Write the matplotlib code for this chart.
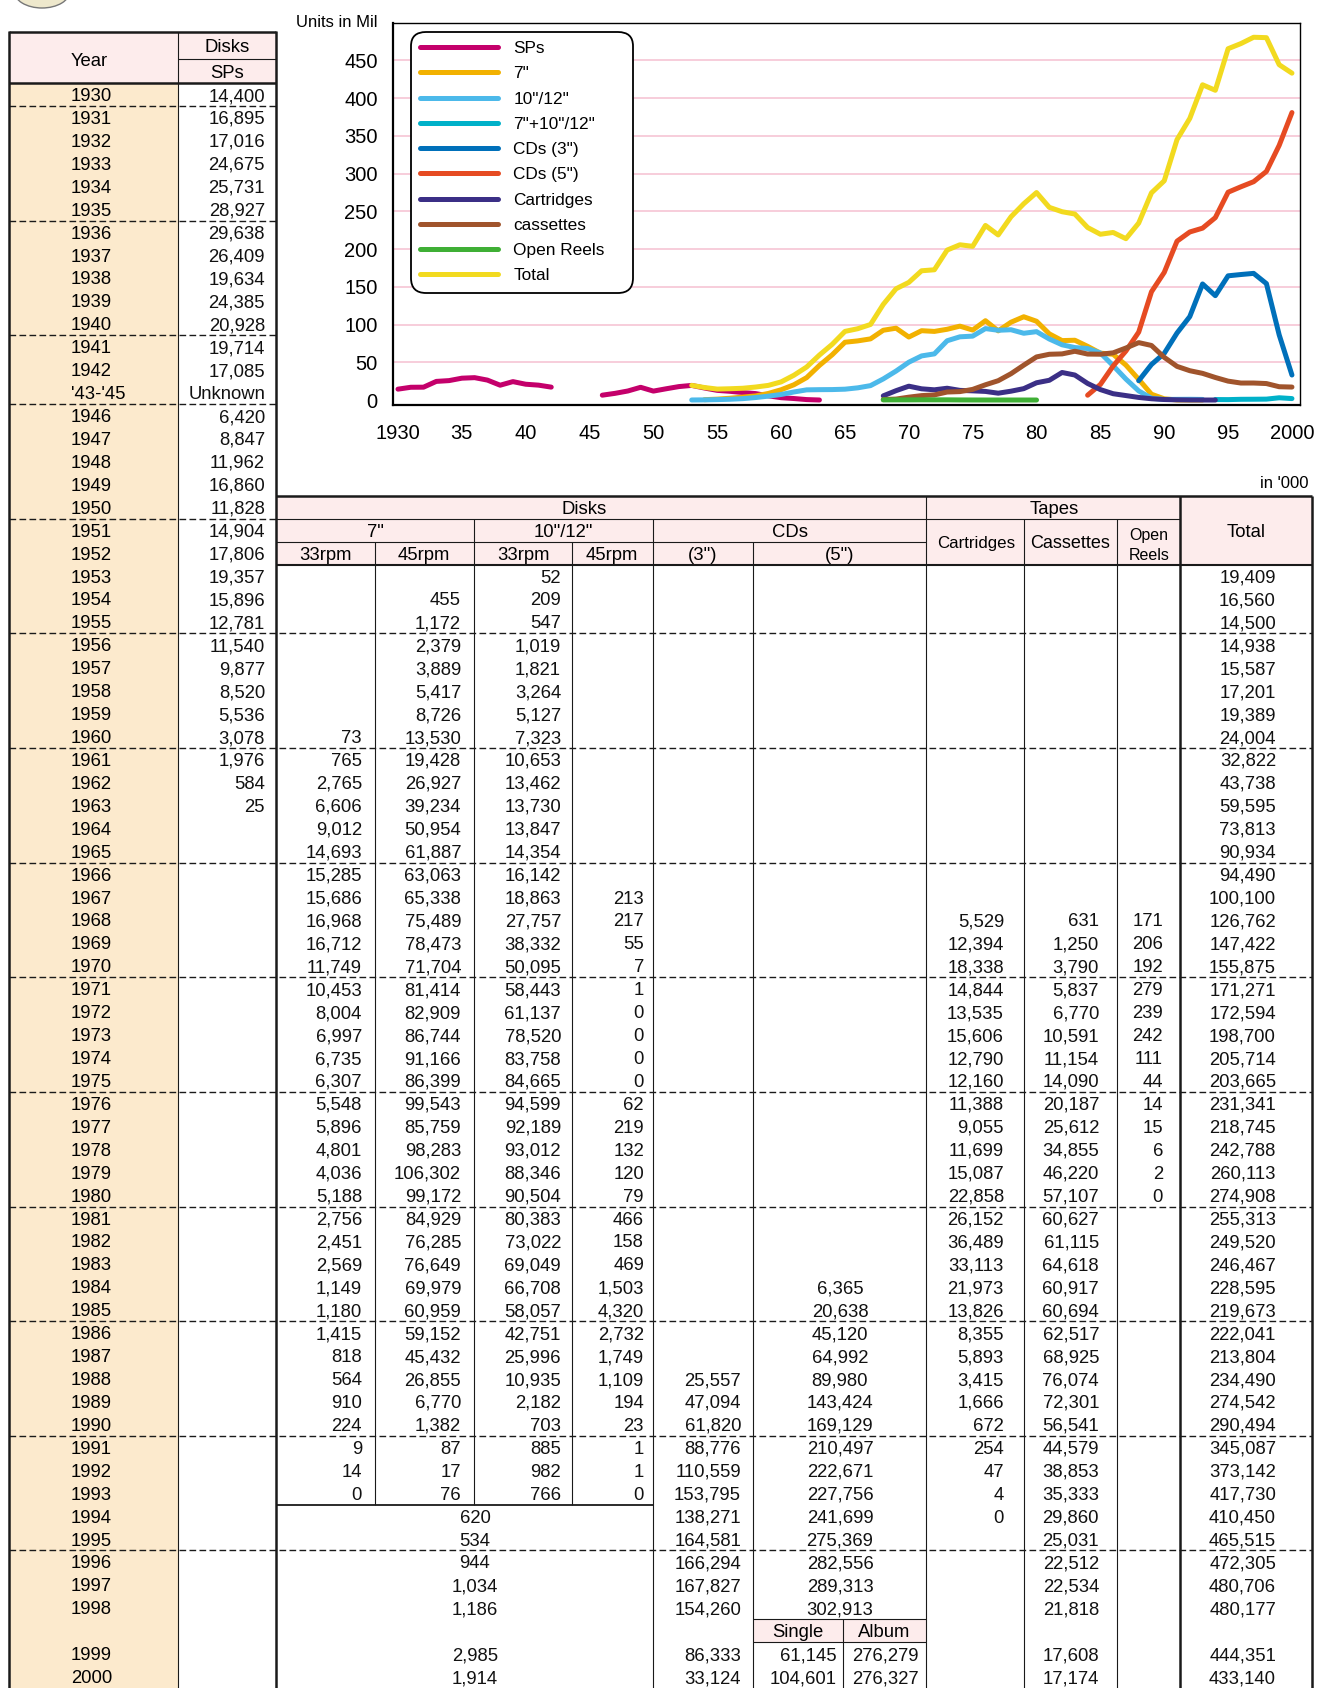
import matplotlib
matplotlib.use("Agg")
import matplotlib.pyplot as plt
import numpy as np
from matplotlib.patches import Rectangle, Ellipse

plt.rcParams['font.family'] = ['Liberation Sans', 'DejaVu Sans']

# ---- data, units in '000 ----
sp_years = list(range(1930, 1964))
sps = [14400, 16895, 17016, 24675, 25731, 28927, 29638, 26409, 19634, 24385,
       20928, 19714, 17085, None, None, None, 6420, 8847, 11962, 16860,
       11828, 14904, 17806, 19357, 15896, 12781, 11540, 9877, 8520, 5536,
       3078, 1976, 584, 25]

s7_33_years = list(range(1960, 1994))
s7_33 = [73, 765, 2765, 6606, 9012, 14693, 15285, 15686, 16968, 16712,
         11749, 10453, 8004, 6997, 6735, 6307, 5548, 5896, 4801, 4036,
         5188, 2756, 2451, 2569, 1149, 1180, 1415, 818, 564, 910,
         224, 9, 14, 0]

s7_45_years = list(range(1954, 1994))
s7_45 = [455, 1172, 2379, 3889, 5417, 8726,
         13530, 19428, 26927, 39234, 50954, 61887, 63063, 65338, 75489, 78473,
         71704, 81414, 82909, 86744, 91166, 86399, 99543, 85759, 98283, 106302,
         99172, 84929, 76285, 76649, 69979, 60959, 59152, 45432, 26855, 6770,
         1382, 87, 17, 76]

s10_33_years = list(range(1953, 1994))
s10_33 = [52, 209, 547, 1019, 1821, 3264, 5127,
          7323, 10653, 13462, 13730, 13847, 14354, 16142, 18863, 27757, 38332,
          50095, 58443, 61137, 78520, 83758, 84665, 94599, 92189, 93012, 88346,
          90504, 80383, 73022, 69049, 66708, 58057, 42751, 25996, 10935, 2182,
          703, 885, 982, 766]

s10_45_years = list(range(1967, 1994))
s10_45 = [213, 217, 55,
          7, 1, 0, 0, 0, 0, 62, 219, 132, 120,
          79, 466, 158, 469, 1503, 4320, 2732, 1749, 1109, 194,
          23, 1, 1, 0]

mixed_years = list(range(1994, 2001))
mixed = [620, 534, 944, 1034, 1186, 2985, 1914]

cd3_years = list(range(1988, 2001))
cd3 = [25557, 47094, 61820, 88776, 110559, 153795, 138271, 164581, 166294,
       167827, 154260, 86333, 33124]

cd5_years = list(range(1984, 1999))
cd5 = [6365, 20638, 45120, 64992, 89980, 143424, 169129, 210497, 222671,
       227756, 241699, 275369, 282556, 289313, 302913]
cd5_split_years = [1999, 2000]
cd5_single = [61145, 104601]
cd5_album = [276279, 276327]

cart_years = list(range(1968, 1995))
cart = [5529, 12394,
        18338, 14844, 13535, 15606, 12790, 12160, 11388, 9055, 11699, 15087,
        22858, 26152, 36489, 33113, 21973, 13826, 8355, 5893, 3415, 1666,
        672, 254, 47, 4, 0]

cass_years = list(range(1968, 2001))
cass = [631, 1250,
        3790, 5837, 6770, 10591, 11154, 14090, 20187, 25612, 34855, 46220,
        57107, 60627, 61115, 64618, 60917, 60694, 62517, 68925, 76074, 72301,
        56541, 44579, 38853, 35333, 29860, 25031, 22512, 22534, 21818, 17608, 17174]

reel_years = list(range(1968, 1981))
reels = [171, 206, 192, 279, 239, 242, 111, 44, 14, 15, 6, 2, 0]

total_years = list(range(1953, 2001))
total = [19409, 16560, 14500, 14938, 15587, 17201, 19389,
         24004, 32822, 43738, 59595, 73813, 90934, 94490, 100100, 126762, 147422,
         155875, 171271, 172594, 198700, 205714, 203665, 231341, 218745, 242788, 260113,
         274908, 255313, 249520, 246467, 228595, 219673, 222041, 213804, 234490, 274542,
         290494, 345087, 373142, 417730, 410450, 465515, 472305, 480706, 480177,
         444351, 433140]

row_labels = ([str(y) for y in range(1930, 1943)] + ["'43-'45"] +
              [str(y) for y in range(1946, 1999)] + [""] + ["1999", "2000"])

legend_labels = ['SPs', '7"', '10"/12"', '7"+10"/12"', 'CDs (3")', 'CDs (5")',
                 'Cartridges', 'cassettes', 'Open Reels', 'Total']
colors = ['#C4006B', '#F2B100', '#4CB9EA', '#00B1C9', '#0070BA', '#E64B22',
          '#3B2F86', '#A0542C', '#3FAF35', '#F2DA1F']

# ---- layout (pixels) ----
W, H = 1318, 1688
TOP0 = 83.0
RH = (H - TOP0) / 70
LINE = '#1a1a1a'
PINK = '#FDECEC'
BEIGE = '#FCEACD'
FS = 13.3


def row_of(y):
    if y <= 1942:
        return y - 1930
    if y <= 1998:
        return y - 1946 + 14
    return y - 1999 + 68


def rtop(i):
    return TOP0 + i * RH


def base(i):
    return rtop(i) + RH / 2 + 6.6


fig = plt.figure(figsize=(W / 100, H / 100), dpi=100)
tb = fig.add_axes([0, 0, 1, 1], zorder=0)
tb.set_xlim(0, W)
tb.set_ylim(H, 0)
tb.axis('off')


def hline(y, x0, x1, lw=0.8, **kw):
    tb.plot([x0, x1], [y, y], color=LINE, lw=lw, solid_capstyle='butt', **kw)


def vline(x, y0, y1, lw=0.8):
    tb.plot([x, x], [y0, y1], color=LINE, lw=lw, solid_capstyle='butt')


def put(x, i, s, ha='right', fs=FS):
    tb.text(x, base(i), s, ha=ha, va='baseline', fontsize=fs, color='#111')


# logo fragment at the top-left corner
tb.add_patch(Ellipse((42, -9), 56, 34, facecolor='#EEE8CC', edgecolor='#777', lw=1))

# ---- left table ----
L0, LM, L1 = 9, 178, 276
tb.add_patch(Rectangle((L0, 32), L1 - L0, TOP0 - 32, facecolor=PINK, lw=0))
tb.add_patch(Rectangle((L0, TOP0), LM - L0, H - TOP0, facecolor=BEIGE, lw=0))
vline(LM, 32, H)
hline(59, LM, L1)
hline(TOP0, L0, L1, lw=1.8)
vline(L0, 31, H, lw=1.8)
vline(L1, 31, H, lw=1.8)
hline(32, L0, L1, lw=1.8)
tb.text(71, 59 + 6.6, 'Year', ha='left', va='baseline', fontsize=FS)
tb.text(227, 45.5 + 6.6, 'Disks', ha='center', va='baseline', fontsize=FS)
tb.text(227, 71 + 6.6, 'SPs', ha='center', va='baseline', fontsize=FS)
for i, lab in enumerate(row_labels):
    tb.text(71, base(i), lab, ha='left', va='baseline', fontsize=FS)
for y, v in zip(sp_years, sps):
    if v is not None:
        put(265, row_of(y), f'{v:,}')
put(265, 13, 'Unknown')

# ---- right table ----
R0, RR = L1, 1312
xs = dict(a=375, b=474, c=572, d=653, e=752.6, f=926, g=1024, h=1117, t=1180)
h0, h1, h2, hb = rtop(18), rtop(19), rtop(20), rtop(21)
tb.add_patch(Rectangle((R0, h0), RR - R0, hb - h0, facecolor=PINK, lw=0))
hline(h0, R0, RR, lw=1.8)
hline(h1, R0, xs['t'])
hline(h2, R0, xs['f'])
hline(hb, R0, RR, lw=1.5)
for k in ('b', 'd'):
    vline(xs[k], h1, hb)
for k in ('a', 'c', 'e'):
    vline(xs[k], h2, hb)
for k in ('g', 'h'):
    vline(xs[k], h1, hb)
vline(xs['f'], h0, H)
vline(xs['t'], h0, H, lw=1.8)
vline(RR, h0, H, lw=1.8)

tb.text(584, base(18), 'Disks', ha='center', va='baseline', fontsize=FS)
tb.text(1054, base(18), 'Tapes', ha='center', va='baseline', fontsize=FS)
tb.text(1246, h0 + (hb - h0) / 2 + 6.6, 'Total', ha='center', va='baseline', fontsize=FS)
for x, s in [(375, '7"'), (563, '10"/12"'), (790, 'CDs')]:
    tb.text(x, base(19), s, ha='center', va='baseline', fontsize=FS)
for x, s in [(325, '33rpm'), (424, '45rpm'), (523, '33rpm'), (612, '45rpm'),
             (703, '(3")'), (840, '(5")')]:
    tb.text(x, base(20), s, ha='center', va='baseline', fontsize=FS)
tb.text(976, h2 + 6, 'Cartridges', ha='center', va='baseline', fontsize=12.2)
tb.text(1070.5, h2 + 6.4, 'Cassettes', ha='center', va='baseline', fontsize=13)
tb.text(1149, h2 - 1.5, 'Open', ha='center', va='baseline', fontsize=11.5)
tb.text(1149, h2 + 18, 'Reels', ha='center', va='baseline', fontsize=11.5)

# body grid
r94 = rtop(row_of(1994))
for k in ('a', 'b', 'c'):
    vline(xs[k], hb, r94)
for k in ('d', 'e', 'g', 'h'):
    vline(xs[k], hb, H)
hline(r94, R0, xs['d'], lw=1.3)
rs = rtop(67)
tb.add_patch(Rectangle((xs['e'], rs), xs['f'] - xs['e'], RH, facecolor=PINK, lw=0))
hline(rs, xs['e'], xs['f'])
hline(rs + RH, xs['e'], xs['f'])
vline(843, rs, H)
tb.text(798, base(67), 'Single', ha='center', va='baseline', fontsize=FS)
tb.text(884.5, base(67), 'Album', ha='center', va='baseline', fontsize=FS)

# dashed 5-year separators
for i in (0, 5, 10, 13, 18):
    hline(rtop(i + 1), L0, L1, lw=1.0, linestyle=(0, (4.8, 2.4)))
for yr in range(1955, 1996, 5):
    hline(rtop(row_of(yr) + 1), L0, RR, lw=1.0, linestyle=(0, (4.8, 2.4)))

# body values
for years, vals, xr in [(s7_33_years, s7_33, 362), (s7_45_years, s7_45, 461),
                        (s10_33_years, s10_33, 561), (s10_45_years, s10_45, 644),
                        (cd3_years, cd3, 741), (cart_years, cart, 1004),
                        (cass_years, cass, 1099), (reel_years, reels, 1163),
                        (total_years, total, 1276)]:
    for y, v in zip(years, vals):
        put(xr, row_of(y), f'{v:,}')
for y, v in zip(mixed_years, mixed):
    put(475, row_of(y), f'{v:,}', ha='center')
for y, v in zip(cd5_years, cd5):
    put(840, row_of(y), f'{v:,}', ha='center')
for y, s, a in zip(cd5_split_years, cd5_single, cd5_album):
    put(837, row_of(y), f'{s:,}')
    put(919, row_of(y), f'{a:,}')

tb.text(377, 27, 'Units in Mil', ha='right', va='baseline', fontsize=12)
tb.text(1309, 488, "in '000", ha='right', va='baseline', fontsize=12)

# ---- chart (millions) ----
cx0, cx1, cy0, cy1 = 393, 1300, 22.7, 405
ax = fig.add_axes([cx0 / W, 1 - cy1 / H, (cx1 - cx0) / W, (cy1 - cy0) / H], zorder=2)


def series(years, vals, start, end):
    yrs = np.arange(start, end + 1)
    out = np.zeros(len(yrs))
    for y, v in zip(years, vals):
        out[y - start] += v
    return yrs, out


y7, v7 = series(s7_33_years + s7_45_years, s7_33 + s7_45, 1954, 1993)
y10, v10 = series(s10_33_years + s10_45_years, s10_33 + s10_45, 1953, 1993)
y5, v5 = series(cd5_years + cd5_split_years * 2, cd5 + cd5_single + cd5_album, 1984, 2000)
sp_arr = np.array([np.nan if v is None else v for v in sps], dtype=float)

lines = [(sp_years, sp_arr), (y7, v7), (y10, v10), (mixed_years, mixed),
         (cd3_years, cd3), (y5, v5), (cart_years, cart), (cass_years, cass),
         (reel_years, reels), (total_years, total)]
for (xv, yv), lab, col in zip(lines, legend_labels, colors):
    ax.plot(xv, np.asarray(yv, dtype=float) / 1000, color=col, lw=3.6, label=lab,
            solid_capstyle='round', solid_joinstyle='round')

ax.set_xlim(1929.61, 2000.63)
ax.set_ylim(-6.6, 500)
ax.set_yticks(range(0, 451, 50))
ax.set_xticks(range(1930, 2001, 5))
ax.set_xticklabels(['1930'] + [str(y)[2:] for y in range(1935, 2000, 5)] + ['2000'])
ax.tick_params(length=0, labelsize=14.5, pad=11)
ax.tick_params(axis='x', pad=13.5)
ax.grid(axis='y', color='#F7CDDA', lw=1.4)
ax.get_ygridlines()[0].set_visible(False)
ax.set_axisbelow(True)
for s in ('left', 'bottom'):
    ax.spines[s].set_linewidth(1.6)
for s in ('top', 'right'):
    ax.spines[s].set_linewidth(1.0)

# legend frame spans x 411..633 px, top at 31.7 px
lx = (411 - cx0) / (cx1 - cx0)
ly = (cy1 - 31.7) / (cy1 - cy0)
lw_ = (633 - 411) / (cx1 - cx0)
leg = ax.legend(loc='upper left', bbox_to_anchor=(lx, 0, lw_, ly), mode='expand',
                borderaxespad=0, fontsize=12.4, handlelength=4.5, handletextpad=0.9,
                labelspacing=0.59, borderpad=0.55, frameon=True, fancybox=True,
                framealpha=1, edgecolor='black')
leg.get_frame().set_linewidth(1.3)
leg.get_frame().set_boxstyle('round', pad=0, rounding_size=0.85)

fig.savefig('out.png', dpi=100)
